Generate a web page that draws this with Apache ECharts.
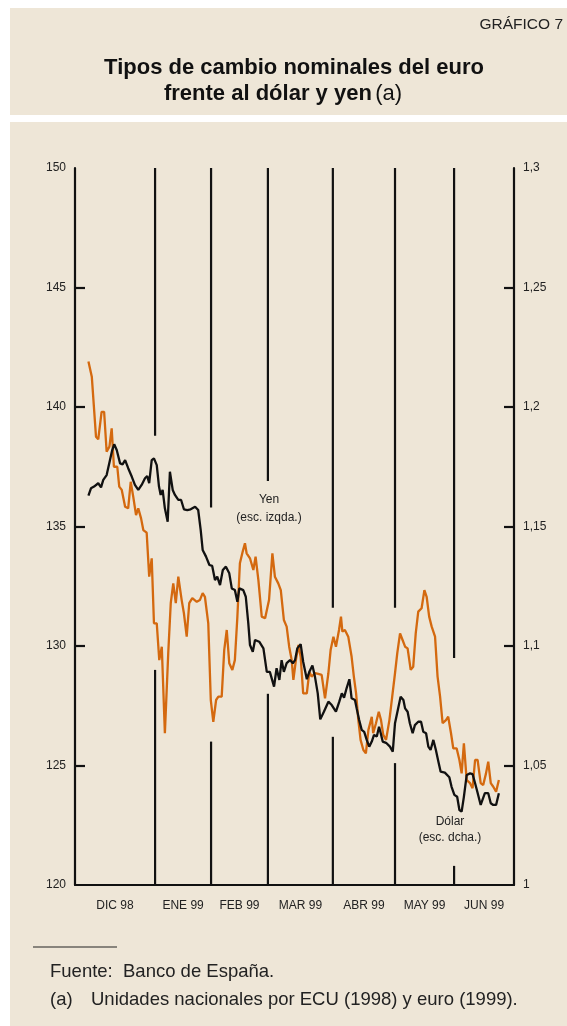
<!DOCTYPE html>
<html>
<head>
<meta charset="utf-8">
<script src="https://cdn.jsdelivr.net/npm/echarts@6/dist/echarts.min.js"></script>
<style>
html,body{margin:0;padding:0;background:#ffffff;}
#c{width:567px;height:1026px;}
</style>
</head>
<body>
<div id="c"></div>
<script>
// ---- data ----
const monthLabels = ['DIC 98','ENE 99','FEB 99','MAR 99','ABR 99','MAY 99','JUN 99'];
// trading-day index where each month starts, and end of axis
const monthStarts = [0, 28.6, 48.6, 68.9, 92.1, 114.3, 135.4];
const axisEnd = 156.8;
// separator gaps (left-scale values): top segment ends at gapTop, bottom segment starts at gapBottom
const gapTop    = [138.8, 135.8, 136.9, 131.6, 131.6, 129.5];
const gapBottom = [129.0, 126.0, 128.0, 126.2, 125.1, 120.8];

const leftTicks  = [120, 125, 130, 135, 140, 145, 150];
const rightTicks = [1, 1.05, 1.1, 1.15, 1.2, 1.25, 1.3];

const yenDays = [
 4.8,6.0,7.5,8.3,9.5,10.4,11.3,12.3,13.1,13.9,
 15.1,15.8,16.7,17.9,19.0,19.9,20.8,21.8,22.6,23.6,
 24.4,25.6,26.5,27.4,28.2,29.2,30.1,31.0,32.1,33.3,
 34.2,35.1,36.0,36.9,38.1,38.9,39.9,40.8,41.9,43.5,
 44.6,45.6,46.4,47.6,48.5,49.4,50.4,51.2,52.4,53.3,
 54.2,55.1,56.2,57.1,58.0,58.9,59.9,60.7,61.3,62.5,
 63.7,64.5,65.5,66.7,67.9,69.3,70.5,71.4,72.6,73.5,
 74.6,75.6,76.5,77.4,78.0,78.9,79.8,80.6,81.5,82.8,
 83.7,84.5,85.7,86.9,88.1,89.3,90.5,91.3,92.3,93.2,
 94.3,95.0,95.5,96.4,97.6,98.8,99.6,100.4,101.2,102.0,
 103.0,103.9,104.8,106.0,106.5,107.5,108.5,109.3,110.1,111.1,
 112.3,113.3,114.3,115.1,116.1,117.0,117.9,118.8,119.9,120.8,
 121.7,122.6,123.8,124.8,125.6,126.5,127.4,128.6,129.5,130.4,
 131.3,132.5,133.3,134.3,135.1,136.3,137.3,138.1,138.9,139.9,
 141.1,142.0,142.9,143.8,144.9,145.8,146.8,147.6,148.5,149.4,
 150.4,151.4
];
const yenValues = [
 141.9,141.27,138.76,138.65,139.8,139.8,138.13,138.34,139.11,137.5,
 137.5,136.67,136.53,135.83,135.76,136.87,136.25,135.48,135.76,135.34,
 134.85,134.74,132.9,133.67,130.95,130.95,129.41,129.97,126.35,129.69,
 131.79,132.62,131.79,132.9,131.92,131.37,130.39,131.79,132.0,131.85,
 131.92,132.21,132.06,130.95,127.74,126.83,127.74,127.88,127.88,129.83,
 130.67,129.28,129.0,129.41,131.23,133.46,133.95,134.3,133.88,133.67,
 133.18,133.74,132.76,131.23,131.16,131.92,133.88,132.9,132.62,132.34,
 131.09,130.81,129.97,129.41,128.58,129.41,130.04,129.55,128.02,128.02,
 128.92,128.72,128.86,128.83,128.79,127.81,128.86,129.83,130.39,129.97,
 130.67,131.23,130.6,130.67,130.39,129.55,128.72,128.02,126.9,126.07,
 125.65,125.51,126.49,127.04,126.35,126.77,127.25,126.9,126.28,126.07,
 126.9,127.88,128.86,129.69,130.53,130.25,129.97,129.9,129.0,129.13,
 130.53,131.44,131.58,132.34,132.06,131.23,130.81,130.39,128.72,127.88,
 126.77,126.9,127.04,126.35,125.72,125.72,125.23,124.67,125.93,124.39,
 124.26,124.05,125.23,125.23,124.26,124.18,124.67,125.16,124.26,124.11,
 123.9,124.39
];

const usdDays = [
 4.8,5.7,6.8,8.3,9.3,10.1,11.3,12.5,13.3,14.0,
 14.9,16.1,17.0,17.9,19.0,20.3,21.4,22.6,23.8,25.0,
 25.8,26.5,27.4,28.2,29.2,30.0,30.6,31.3,32.1,33.1,
 33.9,34.9,35.7,36.9,37.9,38.9,40.1,41.3,42.9,44.0,
 44.9,45.6,46.8,48.0,49.0,50.0,50.8,51.8,52.8,53.9,
 55.1,56.0,57.1,58.0,58.7,60.1,61.0,61.9,62.5,63.5,
 64.3,65.8,67.3,68.5,69.6,71.1,72.0,73.0,73.8,74.6,
 75.6,76.8,77.8,78.6,79.4,80.6,81.5,82.8,83.7,84.8,
 85.7,86.7,87.6,88.9,90.5,91.7,93.2,94.4,95.3,96.1,
 97.0,98.0,98.8,100.0,100.6,101.5,102.4,103.3,104.2,105.1,
 106.0,106.8,107.8,108.6,109.2,109.9,111.1,112.5,113.5,114.3,
 115.3,116.3,117.3,117.9,118.8,119.6,120.6,121.4,122.6,123.6,
 124.4,125.4,126.2,127.0,128.0,128.9,129.8,130.6,132.1,133.7,
 134.5,135.5,136.5,137.3,138.1,138.9,139.9,141.1,142.0,142.9,
 143.7,144.9,145.6,146.4,147.6,148.5,149.4,150.4,151.4
];
const usdValues = [
 1.1629,1.1660,1.1667,1.1681,1.1664,1.1695,1.1715,1.1778,1.1820,1.1844,
 1.1820,1.1764,1.1760,1.1778,1.1744,1.1708,1.1674,1.1653,1.1674,1.1702,
 1.1711,1.1681,1.1778,1.1785,1.1757,1.1667,1.1632,1.1653,1.1576,1.1520,
 1.1729,1.1653,1.1632,1.1611,1.1611,1.1572,1.1569,1.1572,1.1583,1.1569,
 1.1485,1.1402,1.1374,1.1339,1.1335,1.1276,1.1290,1.1255,1.1318,1.1332,
 1.1304,1.1241,1.1234,1.1185,1.1241,1.1234,1.1206,1.1095,1.1004,1.0976,
 1.1025,1.1018,1.0990,1.0892,1.0892,1.0830,1.0907,1.0858,1.0941,1.0892,
 1.0928,1.0941,1.0928,1.0941,1.0990,1.1008,1.0934,1.0861,1.0892,1.0918,
 1.0872,1.0802,1.0693,1.0725,1.0767,1.0753,1.0725,1.0767,1.0802,1.0784,
 1.0823,1.0861,1.0781,1.0774,1.0739,1.0690,1.0649,1.0641,1.0607,1.0579,
 1.0600,1.0628,1.0621,1.0662,1.0635,1.0600,1.0595,1.0579,1.0558,1.0677,
 1.0732,1.0788,1.0774,1.0739,1.0725,1.0677,1.0635,1.0669,1.0683,1.0683,
 1.0641,1.0635,1.0579,1.0565,1.0607,1.0565,1.0516,1.0474,1.0470,1.0451,
 1.0411,1.0377,1.0369,1.0314,1.0307,1.0369,1.0460,1.0467,1.0464,1.0426,
 1.0390,1.0335,1.0335,1.0384,1.0384,1.0342,1.0335,1.0335,1.0384
];

// ---- chart ----
const FONT = '"Liberation Sans", Arial, sans-serif';
const BG = '#EEE6D7';
const ORANGE = '#D4690F';
const INK = '#111111';

const monthCenters = monthStarts.map((s, i) => (s + (i + 1 < monthStarts.length ? monthStarts[i + 1] : axisEnd)) / 2);

const yMin = leftTicks[0], yMax = leftTicks[leftTicks.length - 1];

const sepSeries = [];
monthStarts.slice(1).forEach((x, i) => {
  [[yMax, gapTop[i]], [gapBottom[i], yMin]].forEach(seg => {
    sepSeries.push({
      type: 'line', xAxisIndex: 0, yAxisIndex: 0, symbol: 'none', silent: true,
      lineStyle: { color: INK, width: 2.2 }, z: 1,
      data: [[x, seg[0]], [x, seg[1]]]
    });
  });
});

const chart = echarts.init(document.getElementById('c'), null, { renderer: 'canvas' });
chart.setOption({
  backgroundColor: '#ffffff',
  animation: false,
  textStyle: { fontFamily: FONT },
  grid: { left: 75, right: 53, top: 168, bottom: 141, containLabel: false },
  xAxis: {
    type: 'value', min: 0, max: axisEnd,
    axisLine: { show: true, onZero: false, lineStyle: { color: INK, width: 2.2 } },
    axisTick: { show: false },
    splitLine: { show: false },
    axisLabel: {
      customValues: monthCenters,
      formatter: v => { const i = monthCenters.indexOf(v); return i >= 0 ? monthLabels[i] : ''; },
      color: '#222', fontSize: 12, fontFamily: FONT, margin: 15
    }
  },
  yAxis: [{
    type: 'value', min: yMin, max: yMax, interval: 5, position: 'left',
    axisLine: { show: true, lineStyle: { color: INK, width: 2.2 } },
    axisTick: { show: true, inside: true, length: 10, lineStyle: { color: INK, width: 2.2 }, customValues: leftTicks.slice(1, -1) },
    splitLine: { show: false },
    axisLabel: { customValues: leftTicks, color: '#222', fontSize: 12, fontFamily: FONT, margin: 9 }
  }, {
    type: 'value', min: rightTicks[0], max: rightTicks[rightTicks.length - 1], interval: 0.05, position: 'right',
    axisLine: { show: true, lineStyle: { color: INK, width: 2.2 } },
    axisTick: { show: true, inside: true, length: 10, lineStyle: { color: INK, width: 2.2 }, customValues: rightTicks.slice(1, -1) },
    splitLine: { show: false },
    axisLabel: {
      customValues: rightTicks,
      formatter: v => String(+(+v).toFixed(2)).replace('.', ','),
      color: '#222', fontSize: 12, fontFamily: FONT, margin: 9
    }
  }],
  graphic: [
    { type: 'rect', z: -10, silent: true, shape: { x: 10, y: 8, width: 557, height: 107 }, style: { fill: BG } },
    { type: 'rect', z: -10, silent: true, shape: { x: 10, y: 122, width: 557, height: 904 }, style: { fill: BG } },
    { type: 'text', x: 563, y: 25, style: { text: 'GRÁFICO 7', fill: '#222', font: '15.5px ' + FONT, textAlign: 'right', textVerticalAlign: 'middle' } },
    { type: 'text', x: 294, y: 68, style: { text: 'Tipos de cambio nominales del euro', fill: '#111', font: 'bold 22px ' + FONT, textAlign: 'center', textVerticalAlign: 'middle' } },
    { type: 'text', x: 283, y: 94, style: {
        text: '{b|frente al dólar y yen} {n|(a)}', textAlign: 'center', textVerticalAlign: 'middle',
        rich: { b: { font: 'bold 22px ' + FONT, fill: '#111' }, n: { font: '22px ' + FONT, fill: '#111' } } } },
    { type: 'text', x: 269, y: 500, style: { text: 'Yen', fill: '#222', font: '12px ' + FONT, textAlign: 'center', textVerticalAlign: 'middle' } },
    { type: 'text', x: 269, y: 518, style: { text: '(esc. izqda.)', fill: '#222', font: '12px ' + FONT, textAlign: 'center', textVerticalAlign: 'middle' } },
    { type: 'text', x: 450, y: 822, style: { text: 'Dólar', fill: '#222', font: '12px ' + FONT, textAlign: 'center', textVerticalAlign: 'middle' } },
    { type: 'text', x: 450, y: 838, style: { text: '(esc. dcha.)', fill: '#222', font: '12px ' + FONT, textAlign: 'center', textVerticalAlign: 'middle' } },
    { type: 'rect', shape: { x: 33, y: 946.5, width: 84, height: 1 }, style: { fill: '#222' } },
    { type: 'text', x: 50, y: 972, style: { text: 'Fuente:  Banco de España.', fill: '#222', font: '18.5px ' + FONT, textVerticalAlign: 'middle' } },
    { type: 'text', x: 50, y: 1000, style: { text: '(a)', fill: '#222', font: '18.5px ' + FONT, textVerticalAlign: 'middle' } },
    { type: 'text', x: 91, y: 1000, style: { text: 'Unidades nacionales por ECU (1998) y euro (1999).', fill: '#222', font: '18.5px ' + FONT, textVerticalAlign: 'middle' } }
  ],
  series: sepSeries.concat([
    {
      name: 'Yen', type: 'line', xAxisIndex: 0, yAxisIndex: 0, symbol: 'none', z: 3,
      lineStyle: { color: ORANGE, width: 2.3 },
      data: yenDays.map((d, i) => [d, yenValues[i]])
    },
    {
      name: 'Dólar', type: 'line', xAxisIndex: 0, yAxisIndex: 1, symbol: 'none', z: 4,
      lineStyle: { color: INK, width: 2.3 },
      data: usdDays.map((d, i) => [d, usdValues[i]])
    }
  ])
});
</script>
</body>
</html>
